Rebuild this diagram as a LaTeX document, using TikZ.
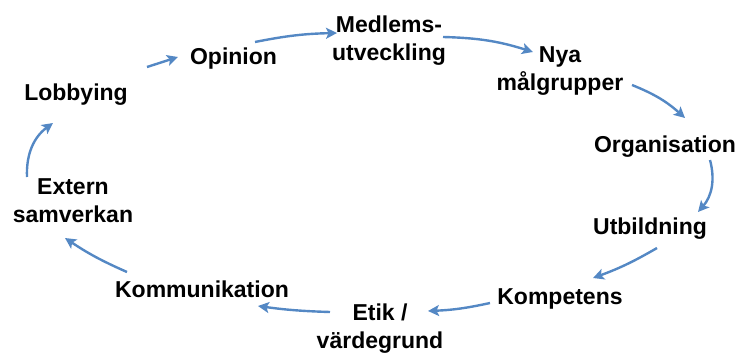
\documentclass[tikz,border=0pt]{standalone}
\usepackage{fontspec}
\setmainfont{Liberation Sans}
\usetikzlibrary{arrows.meta,calc}
\definecolor{arrowblue}{RGB}{84,136,196}
\begin{document}
\begin{tikzpicture}[x=1pt,y=-1pt,
  lbl/.style={font=\bfseries\fontsize{23}{27.5}\selectfont, inner sep=0pt, align=center, anchor=base},
  flow/.style={draw=arrowblue, line width=2.4pt, -{Stealth[length=11pt,width=11pt,inset=2.5pt]}}]
\useasboundingbox (0,0) rectangle (738,353);
\node[lbl] (opinion) at (233.5,64) {Opinion};
\node[lbl] (medlems) at (389,60) {Medlems-\\utveckling};
\node[lbl] (nya) at (560,90) {Nya\\målgrupper};
\node[lbl] (org) at (665,152) {Organisation};
\node[lbl] (utb) at (650,234) {Utbildning};
\node[lbl] (komp) at (560,304) {Kompetens};
\node[lbl] (etik) at (380,348) {Etik /\\värdegrund};
\node[lbl] (komm) at (202,297) {Kommunikation};
\node[lbl] (extern) at (73,222) {Extern\\samverkan};
\node[lbl] (lobby) at (76,100) {Lobbying};

\draw[flow] ($(lobby.base)+(71,-33)$) to ($(opinion.base)+(-55.5,-7)$);
\draw[flow] ($(opinion.base)+(21.5,-22)$) to[bend left=5] ($(medlems.base)+(-52,-27)$);
\draw[flow] ($(medlems.base)+(54,-23)$) to[bend left=8] ($(nya.base)+(-27,-38)$);
\draw[flow] ($(nya.base)+(72,-5)$) to[bend left=10] ($(org.base)+(20,-34)$);
\draw[flow] ($(org.base)+(45,8)$) to[bend left=28] ($(utb.base)+(48,-22)$);
\draw[flow] ($(utb.base)+(7,14)$) to[bend left=5] ($(komp.base)+(33,-26)$);
\draw[flow] ($(komp.base)+(-70,-1)$) to[bend left=5] ($(etik.base)+(48,-37)$);
\draw[flow] ($(etik.base)+(-50,-36)$) to[bend left=3] ($(komm.base)+(56,9)$);
\draw[flow] ($(komm.base)+(-75,-25)$) to[bend left=5] ($(extern.base)+(-8,16)$);
\draw[flow] ($(extern.base)+(-46,-45)$) to[bend left=28] ($(lobby.base)+(-23,23)$);
\end{tikzpicture}
\end{document}
